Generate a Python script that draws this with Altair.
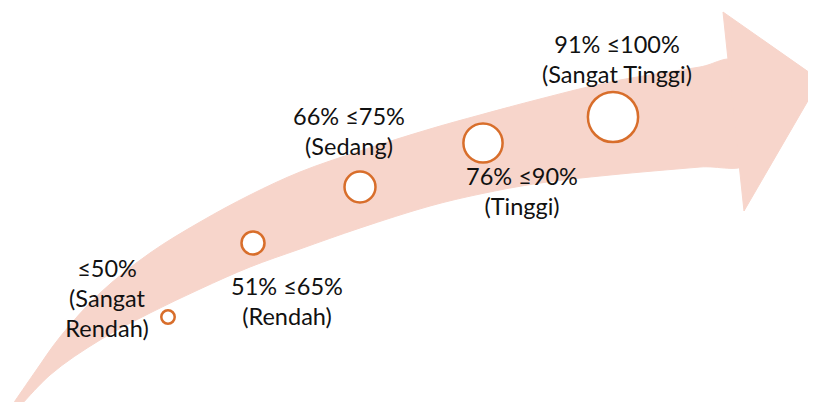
import altair as alt
import pandas as pd

# ---- data -------------------------------------------------------------
categories = ["Sangat Rendah", "Rendah", "Sedang", "Tinggi", "Sangat Tinggi"]
label_lines = [
    ["≤50%", "(Sangat", "Rendah)"],
    ["51% ≤65%", "(Rendah)"],
    ["66% ≤75%", "(Sedang)"],
    ["76% ≤90%", "(Tinggi)"],
    ["91% ≤100%", "(Sangat Tinggi)"],
]
# diagram positions (pixel-like diagram coordinates, y grows downward)
circle_x = [168, 253, 360, 483, 613]
circle_y = [317, 243, 187, 143, 117]
label_x = [107, 287, 349, 522, 617]
label_y = [270, 288, 118, 178, 46]

# arrow outline
upper_x = [2, 35, 60, 100, 150, 200, 250, 300, 360, 430, 480, 540, 610, 700, 735]
upper_y = [420, 372, 337, 293, 253, 222, 195, 172, 151, 129, 115, 99, 82, 67, 61]
lower_x = [10, 50, 100, 150, 200, 250, 300, 360, 430, 480, 540, 610, 700, 748]
lower_y = [418, 375, 340, 313, 289, 267, 249, 228, 206, 194, 183, 175, 167, 163]
head_x = [723, 820, 744]
head_y = [12, 80, 211]

PINK = "#F7D5CB"
ORANGE = "#D86E2B"
SIZES = [180, 530, 961, 1537, 2520]

X = alt.Scale(domain=[8, 808], nice=False, zero=False)
Y = alt.Scale(domain=[8, 402], nice=False, zero=False, reverse=True)

# body polygon
bx = upper_x + lower_x[::-1]
by = upper_y + lower_y[::-1]
body = pd.DataFrame({"x": bx, "y": by, "i": range(len(bx))})
head = pd.DataFrame({"x": head_x, "y": head_y, "i": range(len(head_x))})

body_layer = alt.Chart(body).mark_line(
    fill=PINK, stroke=PINK, strokeWidth=1, interpolate="catmull-rom"
).encode(
    x=alt.X("x:Q", scale=X, axis=None),
    y=alt.Y("y:Q", scale=Y, axis=None),
    order="i:Q",
)
head_layer = alt.Chart(head).mark_line(
    fill=PINK, stroke=PINK, strokeWidth=1, interpolate="linear-closed"
).encode(
    x=alt.X("x:Q", scale=X, axis=None),
    y=alt.Y("y:Q", scale=Y, axis=None),
    order="i:Q",
)

circles = pd.DataFrame({"cat": categories, "x": circle_x, "y": circle_y})
circle_layer = alt.Chart(circles).mark_point(
    shape="circle", filled=True, fill="white", stroke=ORANGE, strokeWidth=2.5, opacity=1
).encode(
    x=alt.X("x:Q", scale=X, axis=None),
    y=alt.Y("y:Q", scale=Y, axis=None),
    size=alt.Size("cat:N", scale=alt.Scale(type="ordinal", domain=categories, range=SIZES), legend=None),
)

rows = []
for c, lines, lx, ly in zip(categories, label_lines, label_x, label_y):
    for k, t in enumerate(lines):
        rows.append({"cat": c, "text": t, "x": lx, "y": ly + 30 * k})
labels = pd.DataFrame(rows)
text_layer = alt.Chart(labels).mark_text(
    font="Lato", fontSize=23.5, color="#111111", align="center", baseline="middle"
).encode(
    x=alt.X("x:Q", scale=X, axis=None),
    y=alt.Y("y:Q", scale=Y, axis=None),
    text="text:N",
)

chart = alt.layer(body_layer, head_layer, circle_layer, text_layer).properties(
    width=800, height=394, padding=0,
    autosize=alt.AutoSizeParams(type="none"),
    background="white",
).configure_view(stroke=None)

chart.save("out.html", embed_options={"renderer": "svg", "actions": False})
